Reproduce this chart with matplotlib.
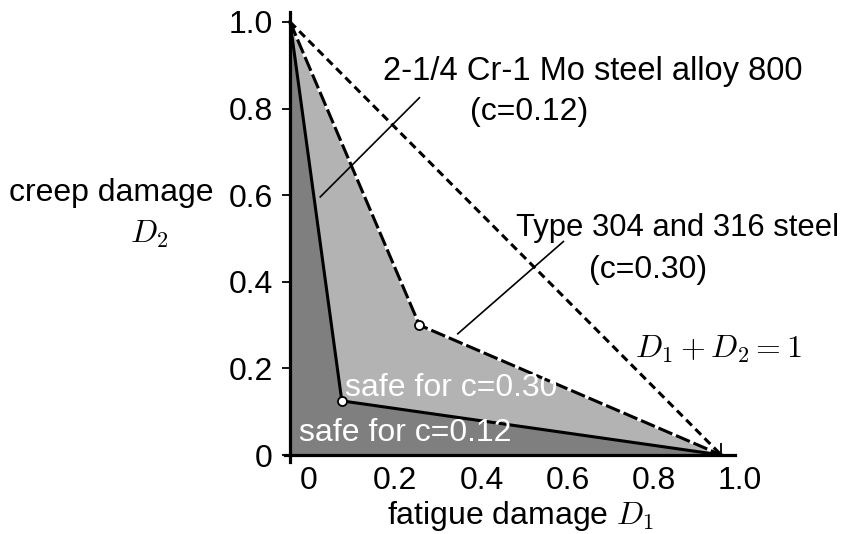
import matplotlib
matplotlib.use("Agg")
import matplotlib.pyplot as plt
import matplotlib.transforms as mtransforms

plt.rcParams['font.family'] = ['Liberation Sans', 'DejaVu Sans']
plt.rcParams['mathtext.fontset'] = 'cm'
plt.rcParams['lines.scale_dashes'] = False

# damage envelopes (fatigue D1, creep D2)
c012_d1 = [0.0, 0.12, 1.0]
c012_d2 = [1.0, 0.125, 0.0]
c030_d1 = [0.0, 0.3, 1.0]
c030_d2 = [1.0, 0.3, 0.0]
linear_d1 = [0.0, 1.0]
linear_d2 = [1.0, 0.0]

ticks = [0.0, 0.2, 0.4, 0.6, 0.8, 1.0]
xtick_labels = ['0', '0.2', '0.4', '0.6', '0.8', '1.0']
ytick_labels = ['0', '0.2', '0.4', '0.6', '0.8', '1.0']

dark = '#7f7f7f'
light = '#b3b3b3'
FS = 23

fig = plt.figure(figsize=(8.41, 5.34), dpi=100)
ax = fig.add_axes([0.3389, 0.1348, 0.5351, 0.8427])
ax.set_xlim(-0.0117, 1.032)
ax.set_ylim(-0.0162, 1.023)

# fills
ax.fill(c030_d1 + [0.0], c030_d2 + [0.0], color=light, lw=0, zorder=1)
ax.fill(c012_d1 + [0.0], c012_d2 + [0.0], color=dark, lw=0, zorder=2)

# boundaries
ax.plot(linear_d1, linear_d2, color='black', lw=2.2, dashes=(5.8, 3.6), zorder=3)
ax.plot(c030_d1, c030_d2, color='black', lw=2.2, dashes=(10.8, 2.9),
        gapcolor='white', zorder=4)
ax.plot(c012_d1, c012_d2, color='black', lw=2.2, zorder=5)

# knees
ax.plot([c030_d1[1], c012_d1[1]], [c030_d2[1], c012_d2[1]], 'o', ms=6.5,
        mfc='white', mec='black', mew=1.3, zorder=6)

# leader lines
ax.plot([0.07, 0.30], [0.596, 0.825], color='black', lw=1.2, zorder=6, clip_on=False)
ax.plot([0.389, 0.634], [0.28, 0.493], color='black', lw=1.2, zorder=6, clip_on=False)

# spines and ticks
for s in ['top', 'right']:
    ax.spines[s].set_visible(False)
ax.spines['left'].set_position(('data', 0))
ax.spines['bottom'].set_position(('data', 0))
ax.spines['left'].set_linewidth(2.3)
ax.spines['bottom'].set_linewidth(2.3)
ax.spines['left'].set_zorder(7)
ax.spines['bottom'].set_zorder(7)

ax.set_xticks(ticks)
ax.set_xticklabels(xtick_labels, fontsize=FS)
ax.set_yticks(ticks)
ax.set_yticklabels(ytick_labels, fontsize=FS)
ax.tick_params(axis='x', direction='in', length=8.5, width=1.3, pad=8)
ax.tick_params(axis='y', direction='out', length=5.5, width=1.3, pad=7)

offset = mtransforms.ScaledTranslation(0.19, 0, fig.dpi_scale_trans)
for lab in ax.get_xticklabels():
    lab.set_transform(lab.get_transform() + offset)

# texts
ax.text(0.215, 0.885, '2-1/4 Cr-1 Mo steel alloy 800', fontsize=23.5, va='center', ha='left')
ax.text(0.418, 0.792, '(c=0.12)', fontsize=FS, va='center', ha='left')
ax.text(0.525, 0.525, 'Type 304 and 316 steel', fontsize=22.3, va='center', ha='left',
        clip_on=False)
ax.text(0.693, 0.428, '(c=0.30)', fontsize=FS, va='center', ha='left')
ax.text(0.80, 0.245, r'$D_1 + D_2 = 1$', fontsize=FS, va='center', ha='left')
ax.text(0.128, 0.155, 'safe for c=0.30', fontsize=FS, color='white', va='center', ha='left',
        zorder=8)
ax.text(0.02, 0.05, 'safe for c=0.12', fontsize=FS, color='white', va='center', ha='left',
        zorder=8)
ax.text(-0.653, 0.605, 'creep damage', fontsize=FS, va='center', ha='left', clip_on=False)
ax.text(-0.327, 0.51, r'$D_2$', fontsize=FS, va='center', ha='center', clip_on=False)
ax.text(0.535, -0.14, r'fatigue damage $D_1$', fontsize=FS, va='center', ha='center',
        clip_on=False)

fig.savefig('out.png', dpi=100)
